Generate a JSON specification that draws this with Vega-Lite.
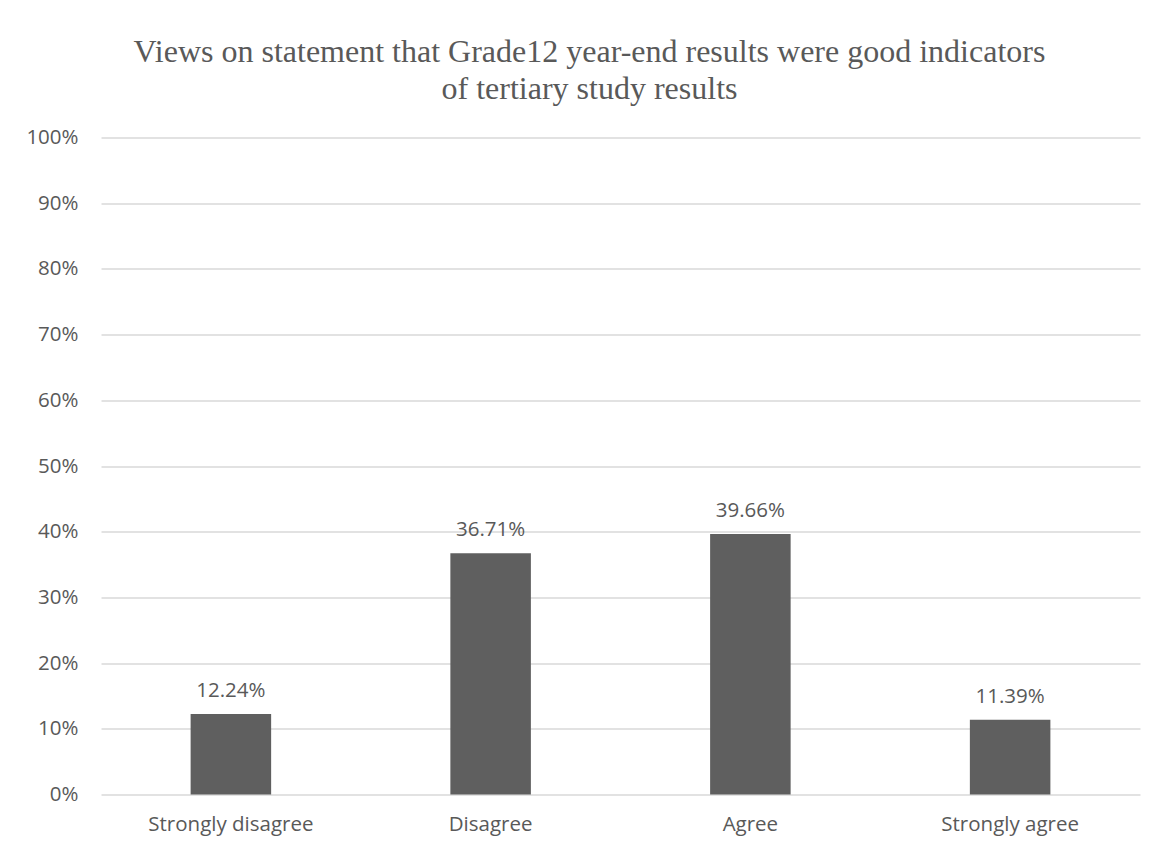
{
  "$schema": "https://vega.github.io/schema/vega-lite/v6.json",
  "autosize": "none",
  "width": 1039,
  "height": 657,
  "padding": {"left": 101, "top": 137.5, "right": 25, "bottom": 56.5},
  "background": "white",
  "config": {
    "view": {"stroke": null},
    "font": "Open Sans"
  },
  "title": {
    "text": ["Views on statement that Grade12 year-end results were good indicators", "of tertiary study results"],
    "font": "Liberation Serif",
    "fontSize": 32,
    "fontWeight": "normal",
    "color": "#595959",
    "lineHeight": 37,
    "anchor": "middle",
    "dx": -31,
    "offset": 22
  },
  "data": {
    "values": [
      {"response": "Strongly disagree", "share": 0.1224},
      {"response": "Disagree", "share": 0.3671},
      {"response": "Agree", "share": 0.3966},
      {"response": "Strongly agree", "share": 0.1139}
    ]
  },
  "encoding": {
    "x": {
      "field": "response",
      "type": "nominal",
      "sort": null,
      "scale": {"paddingInner": 0.69, "paddingOuter": 0.345},
      "axis": {
        "title": null,
        "labelAngle": 0,
        "labelFont": "Open Sans",
        "labelFontSize": 20.5,
        "labelColor": "#595959",
        "labelPadding": 20,
        "ticks": false,
        "domain": false
      }
    },
    "y": {
      "field": "share",
      "type": "quantitative",
      "scale": {"domain": [0, 1], "nice": false},
      "axis": {
        "title": null,
        "format": ".0%",
        "values": [0, 0.1, 0.2, 0.3, 0.4, 0.5, 0.6, 0.7, 0.8, 0.9, 1],
        "labelFont": "Open Sans",
        "labelFontSize": 20.5,
        "labelColor": "#595959",
        "labelPadding": 23,
        "ticks": false,
        "domain": false,
        "grid": true,
        "gridColor": "#d9d9d9",
        "gridWidth": 1.3
      }
    }
  },
  "layer": [
    {"mark": {"type": "bar", "color": "#5f5f5f"}},
    {
      "mark": {"type": "text", "baseline": "alphabetic", "dy": -17, "font": "Open Sans", "fontSize": 20.5, "color": "#595959"},
      "encoding": {"text": {"field": "share", "type": "quantitative", "format": ".2%"}}
    }
  ]
}
